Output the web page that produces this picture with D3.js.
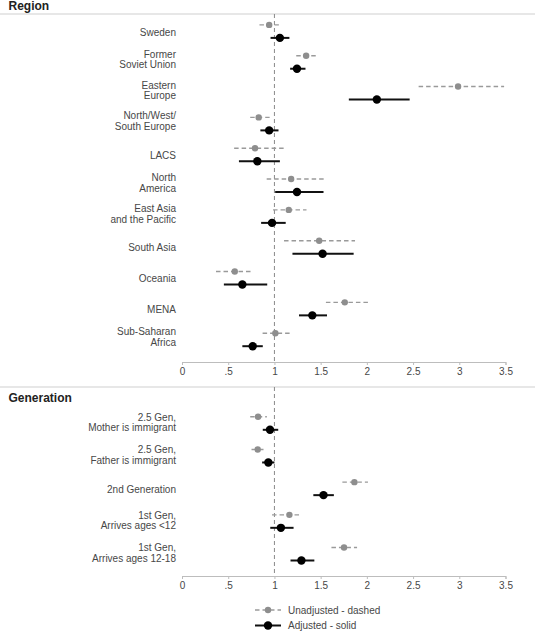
<!DOCTYPE html>
<html>
<head>
<meta charset="utf-8">
<script src="https://cdn.jsdelivr.net/npm/d3@7"></script>
<style>
html,body{margin:0;padding:0;background:#fff;}
svg{display:block;font-family:"Liberation Sans",Arial,sans-serif;}
</style>
</head>
<body>
<svg id="chart" width="535" height="632"></svg>
<script>
// ---------- DATA ----------
const regionCats = ["Sweden", "Former\nSoviet Union", "Eastern\nEurope", "North/West/\nSouth Europe", "LACS",
  "North\nAmerica", "East Asia\nand the Pacific", "South Asia", "Oceania", "MENA", "Sub-Saharan\nAfrica"];
const regionUnadj   = [0.943, 1.343, 2.987, 0.830, 0.790, 1.181, 1.155, 1.484, 0.571, 1.761, 1.010];
const regionUnadjLo = [0.838, 1.236, 2.560, 0.738, 0.564, 0.916, 0.985, 1.104, 0.368, 1.557, 0.872];
const regionUnadjHi = [1.048, 1.450, 3.485, 0.948, 1.107, 1.546, 1.347, 1.872, 0.756, 2.012, 1.170];
const regionAdj     = [1.059, 1.244, 2.108, 0.943, 0.815, 1.244, 0.974, 1.521, 0.653, 1.410, 0.765];
const regionAdjLo   = [0.958, 1.170, 1.805, 0.848, 0.616, 1.008, 0.856, 1.195, 0.453, 1.266, 0.653];
const regionAdjHi   = [1.162, 1.336, 2.463, 1.044, 1.059, 1.531, 1.122, 1.857, 0.922, 1.569, 0.874];

const genCats = ["2.5 Gen,\nMother is immigrant", "2.5 Gen,\nFather is immigrant", "2nd Generation",
  "1st Gen,\nArrives ages <12", "1st Gen,\nArrives ages 12-18"];
const genUnadj   = [0.823, 0.819, 1.865, 1.162, 1.753];
const genUnadjLo = [0.738, 0.752, 1.735, 0.974, 1.617];
const genUnadjHi = [0.918, 0.893, 2.012, 1.274, 1.894];
const genAdj     = [0.952, 0.934, 1.531, 1.070, 1.292];
const genAdjLo   = [0.874, 0.867, 1.421, 0.955, 1.174];
const genAdjHi   = [1.041, 1.000, 1.643, 1.207, 1.432];

const xTicks = [0, 0.5, 1, 1.5, 2, 2.5, 3, 3.5];
const xTickLabels = ["0", ".5", "1", "1.5", "2", "2.5", "3", "3.5"];
const refValue = 1;
const legendLabels = ["Unadjusted - dashed", "Adjusted - solid"];

// ---------- STYLE ----------
const grayDot = "#8e8e8e", grayLine = "#9a9a9a", textCol = "#474747", axisCol = "#bdbdbd";
const svg = d3.select("#chart");
const x = d3.scaleLinear().domain([0, 3.5]).range([182, 505.5]);

function panel(opts) {
  const {title, titleY, topLine, axisY, cats, yRange, u, uLo, uHi, a, aLo, aHi, lab1, lab2} = opts;
  const g = svg.append("g");
  // separator line
  g.append("line").attr("x1", 0).attr("x2", 535).attr("y1", topLine).attr("y2", topLine)
    .attr("stroke", "#cfcfcf").attr("stroke-width", 1);
  g.append("text").attr("x", 8.5).attr("y", titleY).attr("dy", "0.35em")
    .attr("font-size", 12).attr("font-weight", "bold").attr("fill", "#222").text(title);

  // reference line
  g.append("line").attr("x1", x(refValue)).attr("x2", x(refValue))
    .attr("y1", topLine).attr("y2", axisY)
    .attr("stroke", "#8a8a8a").attr("stroke-width", 1).attr("stroke-dasharray", "4,3");

  const y = d3.scalePoint().domain(cats).range(yRange);
  const data = cats.map((c, i) => ({c, u: u[i], uLo: uLo[i], uHi: uHi[i], a: a[i], aLo: aLo[i], aHi: aHi[i]}));

  // labels
  data.forEach(d => {
    const lines = d.c.split("\n");
    const t = g.append("text").attr("text-anchor", "end").attr("font-size", 10).attr("fill", textCol);
    if (lines.length === 1) {
      t.append("tspan").attr("x", 176).attr("y", y(d.c) + 0.5 + 3.6).text(lines[0]);
    } else {
      t.append("tspan").attr("x", 176).attr("y", y(d.c) + lab1 + 3.6).text(lines[0]);
      t.append("tspan").attr("x", 176).attr("y", y(d.c) + lab2 + 3.6).text(lines[1]);
    }
  });

  const off = 6.5;
  // unadjusted dashed
  g.selectAll(".ul").data(data).join("line")
    .attr("x1", d => x(d.uLo)).attr("x2", d => x(d.uHi))
    .attr("y1", d => y(d.c) - off).attr("y2", d => y(d.c) - off)
    .attr("stroke", grayLine).attr("stroke-width", 1.4).attr("stroke-dasharray", "4.5,3");
  g.selectAll(".ud").data(data).join("circle")
    .attr("cx", d => x(d.u)).attr("cy", d => y(d.c) - off).attr("r", 3.2).attr("fill", grayDot);
  // adjusted solid
  g.selectAll(".al").data(data).join("line")
    .attr("x1", d => x(d.aLo)).attr("x2", d => x(d.aHi))
    .attr("y1", d => y(d.c) + off).attr("y2", d => y(d.c) + off)
    .attr("stroke", "#111").attr("stroke-width", 2);
  g.selectAll(".ad").data(data).join("circle")
    .attr("cx", d => x(d.a)).attr("cy", d => y(d.c) + off).attr("r", 4.2).attr("fill", "#000");

  // axis
  const ax = g.append("g").attr("transform", `translate(0,${axisY})`)
    .call(d3.axisBottom(x).tickValues(xTicks).tickSize(3).tickPadding(3)
      .tickFormat((d, i) => xTickLabels[i]));
  ax.select(".domain").attr("stroke", axisCol);
  ax.selectAll(".tick line").attr("stroke", axisCol);
  ax.selectAll(".tick text").attr("fill", textCol).attr("font-size", 10)
    .attr("font-family", '"Liberation Sans",Arial,sans-serif');
}

panel({title: "Region", titleY: 6, topLine: 14, axisY: 362, cats: regionCats, yRange: [31.4, 339.7],
  u: regionUnadj, uLo: regionUnadjLo, uHi: regionUnadjHi, a: regionAdj, aLo: regionAdjLo, aHi: regionAdjHi,
  lab1: -8, lab2: 2.6});
panel({title: "Generation", titleY: 397.3, topLine: 387, axisY: 576, cats: genCats, yRange: [423.3, 554],
  u: genUnadj, uLo: genUnadjLo, uHi: genUnadjHi, a: genAdj, aLo: genAdjLo, aHi: genAdjHi,
  lab1: -6.3, lab2: 4.5});

// legend
const lg = svg.append("g");
lg.append("line").attr("x1", 255).attr("x2", 281).attr("y1", 610).attr("y2", 610)
  .attr("stroke", grayLine).attr("stroke-width", 1.4).attr("stroke-dasharray", "4.5,3");
lg.append("circle").attr("cx", 268).attr("cy", 610).attr("r", 3.2).attr("fill", grayDot);
lg.append("line").attr("x1", 255).attr("x2", 281).attr("y1", 625.5).attr("y2", 625.5)
  .attr("stroke", "#111").attr("stroke-width", 2);
lg.append("circle").attr("cx", 268).attr("cy", 625.5).attr("r", 4.2).attr("fill", "#000");
legendLabels.forEach((t, i) => {
  lg.append("text").attr("x", 288).attr("y", (i === 0 ? 610 : 625.5) + 3.6)
    .attr("font-size", 10).attr("fill", textCol).text(t);
});
</script>
</body>
</html>
